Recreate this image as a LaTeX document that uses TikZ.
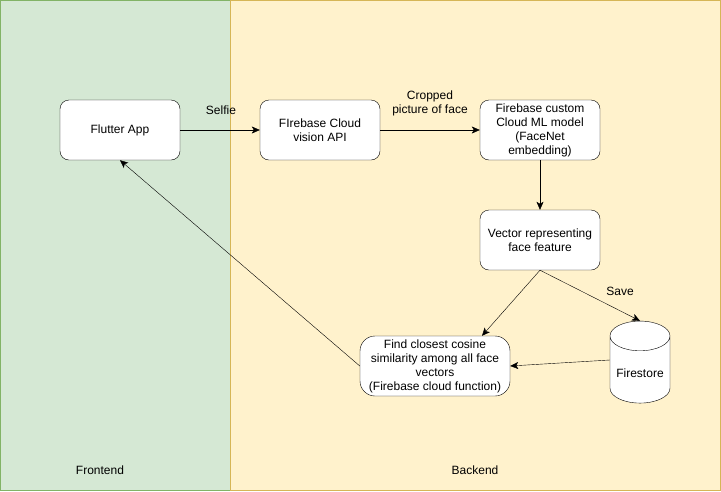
\documentclass[tikz,border=0pt]{standalone}
\usepackage{fontspec}
\setmainfont{Liberation Sans}
\usetikzlibrary{shapes.geometric,arrows.meta}
\definecolor{frontfill}{HTML}{D5E8D4}
\definecolor{frontline}{HTML}{82B366}
\definecolor{backfill}{HTML}{FFF2CC}
\definecolor{backline}{HTML}{D6B656}
\begin{document}
\begin{tikzpicture}[
    x=1pt,y=-1pt,
    font=\fontsize{12}{14}\selectfont,
    box/.style={draw, fill=white, rounded corners=9pt, minimum width=120pt, minimum height=60pt, align=center, inner sep=2pt},
    db/.style={draw, fill=white, cylinder, shape border rotate=90, aspect=0.55, minimum width=60pt, minimum height=82pt},
    flow/.style={-{Stealth[length=8pt,width=7pt,inset=2pt]}},
    elabel/.style={align=center}
    ]
  \useasboundingbox (0,0) rectangle (721,491);
  % panels
  \draw[frontline, fill=frontfill] (0.5,0.5) rectangle (230,490.5);
  \draw[backline, fill=backfill] (230,0.5) rectangle (720.5,490.5);
  \node (front) at (100,470) {Frontend};
  \node (back) at (475,470) {Backend};

  \node [box] (app) at (120,130) {Flutter App};
  \node [box] (vision) at (320,130) {FIrebase Cloud\\vision API};
  \node [box] (model) at (540,130) {Firebase custom\\Cloud ML model\\(FaceNet\\embedding)};
  \node [box] (vector) at (540,240) {Vector representing\\face feature};
  \node [box, minimum width=150pt, rounded corners=15pt] (find) at (435,366) {Find closest cosine\\similarity among all face\\vectors\\(Firebase cloud function)};
  \node [db] (store) at (640,373) {Firestore};

  \draw [flow] (app) -- (vision);
  \draw [flow] (vision) -- (model);
  \draw [flow] (model) -- (vector);
  \draw [flow] (vector.south) -- ([xshift=47pt]find.north);
  \draw [flow] (vector.south) -- (store.top);
  \draw [flow] ([yshift=13pt]store.west) -- (find.east);
  \draw [flow] (find.west) -- (app.south);

  \node [elabel] (selfie) at (221,110) {Selfie};
  \node [elabel] (crop) at (430,103) {Cropped\\picture of face};
  \node [elabel] (save) at (620,291) {Save};
\end{tikzpicture}
\end{document}
